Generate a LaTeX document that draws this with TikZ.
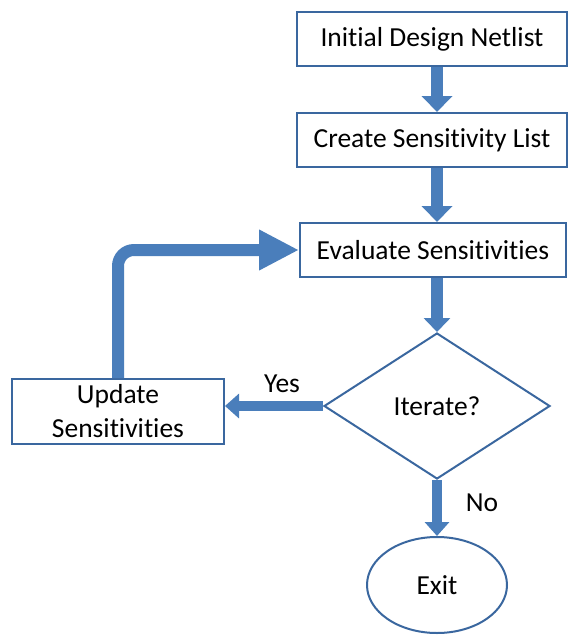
\documentclass[tikz,border=0pt]{standalone}
\usepackage{fontspec}
\setmainfont{Carlito}[Ligatures=NoCommon]
\usetikzlibrary{arrows.meta,shapes.geometric}
\definecolor{boxline}{HTML}{3A679F}
\definecolor{flowblue}{HTML}{4A7EBB}
\tikzset{
  stepbox/.style={draw=boxline, line width=2pt, fill=white, rectangle,
    inner sep=0pt, font=\fontsize{27.5}{34}\selectfont, align=center},
  flow/.style={draw=flowblue, line width=12pt,
    -{Triangle[width=30pt,length=16pt]}},
  thinflow/.style={draw=flowblue, line width=10pt,
    -{Triangle[width=24pt,length=14pt]}},
  lbl/.style={font=\fontsize{27.5}{32}\selectfont}
}
\begin{document}
\begin{tikzpicture}[x=1pt,y=-1pt]
\useasboundingbox (0,0) rectangle (569,635);
% process boxes
\node[stepbox, minimum width=270pt, minimum height=54pt] (init) at (432,39) {Initial Design Netlist};
\node[stepbox, minimum width=270pt, minimum height=54pt] (create) at (432,140) {Create Sensitivity List};
\node[stepbox, minimum width=266pt, minimum height=54pt] (eval) at (433,250) {Evaluate Sensitivities};
\node[stepbox, minimum width=212pt, minimum height=65pt] (upd) at (118,411.5) {Update\\Sensitivities};
% decision and terminal
\node[stepbox, diamond, minimum width=226pt, minimum height=146pt, aspect=1.55] (dec) at (437,406) {Iterate?};
\node[stepbox, ellipse, minimum width=140pt, minimum height=96pt] (exit) at (437,585) {Exit};
% connectors
\draw[flow] (init.south -| dec.north) -- (create.north -| dec.north);
\draw[flow] (create.south -| dec.north) -- (eval.north -| dec.north);
\draw[flow, -{Triangle[width=26pt,length=14pt]}] (eval.south -| dec.north) -- (dec.north);
\draw[thinflow] (dec.west) -- (dec.west -| upd.east);
\draw[thinflow] (dec.south) -- (exit.north);
\draw[flow, rounded corners=16pt, -{Triangle[width=38pt,length=40pt]}]
  (upd.north) |- (eval.west);
% branch labels
\node[lbl] (yes) at (282,384) {Yes};
\node[lbl] (no) at (482,503) {No};
\end{tikzpicture}
\end{document}
